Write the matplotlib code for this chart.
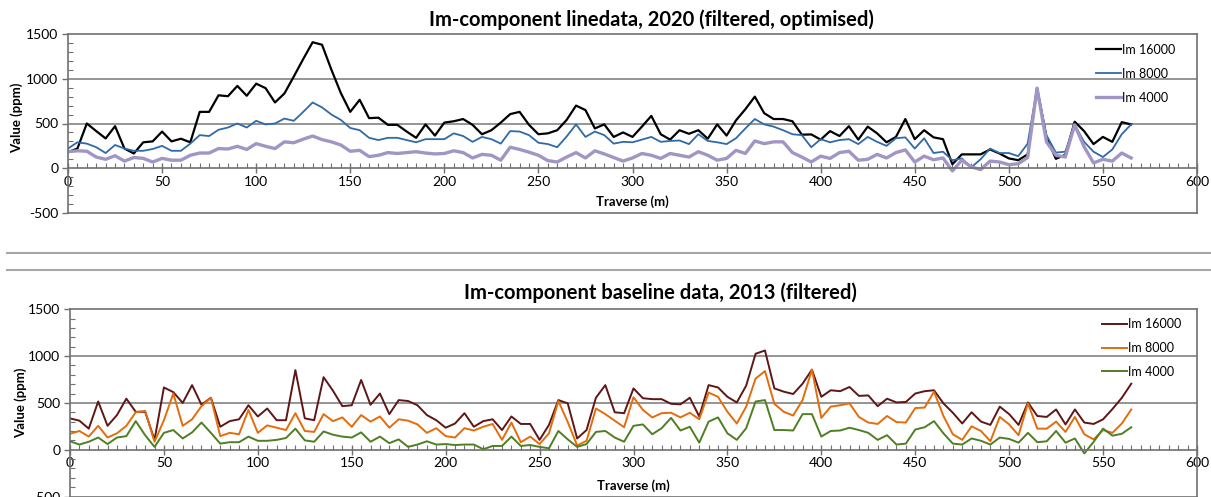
import matplotlib
matplotlib.use("Agg")
import matplotlib.pyplot as plt
from matplotlib.lines import Line2D
from matplotlib.ticker import MultipleLocator

plt.rcParams["font.family"] = ["Lato", "DejaVu Sans"]
plt.rcParams["axes.unicode_minus"] = False

# traverse stations (m), every 5 m
stations = list(range(0, 570, 5))

# 2020 line data (filtered, optimised), ppm
im16000_2020 = [
    180, 220, 500, 415, 333, 470, 220, 165, 290, 300,
    410, 300, 330, 290, 630, 630, 815, 805, 920, 810,
    945, 895, 735, 835, 1025, 1220, 1408, 1380, 1100, 840,
    630, 765, 560, 565, 485, 485, 410, 340, 490, 365,
    510, 525, 550, 485, 380, 425, 510, 605, 630, 485,
    380, 390, 425, 540, 700, 650, 445, 490, 350, 400,
    350, 465, 585, 380, 320, 425, 385, 425, 330, 490,
    365, 535, 660, 800, 615, 550, 550, 525, 375, 378,
    320, 415, 360, 470, 320, 465, 390, 290, 350, 550,
    325, 425, 345, 325, 45, 155, 155, 155, 210, 165,
    110, 90, 155, 895, 345, 105, 150, 520, 415, 270,
    350, 295, 515, 490,
]
im8000_2020 = [
    220, 290, 275, 235, 170, 260, 220, 195, 195, 215,
    250, 195, 195, 275, 370, 360, 430, 455, 500, 455,
    530, 490, 500, 555, 530, 630, 735, 680, 600, 540,
    450, 425, 340, 315, 340, 340, 315, 290, 325, 325,
    325, 390, 360, 295, 350, 325, 275, 415, 410, 370,
    285, 270, 235, 355, 490, 350, 410, 370, 275, 295,
    290, 320, 350, 295, 305, 310, 270, 380, 305, 290,
    270, 335, 445, 550, 490, 465, 425, 380, 370, 235,
    325, 290, 315, 325, 270, 350, 295, 250, 335, 345,
    220, 335, 170, 185, 90, 110, 10, 100, 220, 170,
    170, 135, 275, 895, 370, 175, 185, 485, 295, 185,
    125, 210, 380, 490,
]
im4000_2020 = [
    185, 195, 190, 125, 100, 140, 80, 120, 110, 70,
    110, 90, 90, 145, 170, 170, 220, 215, 245, 210,
    275, 245, 220, 295, 285, 325, 360, 320, 295, 260,
    190, 200, 130, 145, 175, 165, 175, 185, 170, 160,
    165, 195, 175, 115, 155, 145, 90, 235, 210, 180,
    145, 85, 70, 125, 175, 115, 195, 160, 120, 80,
    115, 165, 145, 110, 165, 145, 125, 185, 145, 90,
    110, 200, 165, 305, 275, 295, 295, 175, 125, 70,
    135, 110, 175, 190, 90, 100, 155, 115, 175, 205,
    70, 135, 95, 115, -30, 90, 15, -15, 80, 70,
    40, 50, 120, 895, 295, 145, 125, 485, 240, 60,
    100, 80, 170, 115,
]

# 2013 baseline data (filtered), ppm
im16000_2013 = [
    335, 310, 225, 515, 255, 370, 545, 405, 405, 105,
    665, 615, 500, 690, 480, 555, 245, 305, 325, 475,
    355, 440, 315, 315, 850, 335, 315, 775, 630, 465,
    475, 745, 480, 600, 380, 530, 520, 475, 370, 315,
    235, 280, 390, 245, 305, 325, 210, 355, 275, 275,
    105, 265, 530, 495, 120, 210, 555, 690, 400, 390,
    655, 550, 540, 540, 490, 485, 555, 355, 690, 665,
    565, 505, 685, 1025, 1060, 655, 620, 595, 705, 855,
    565, 635, 625, 670, 575, 580, 465, 545, 505, 510,
    600, 625, 635, 495, 395, 280, 400, 300, 265, 460,
    380, 265, 505, 360, 350, 430, 270, 430, 290, 275,
    325, 435, 555, 705,
]
im8000_2013 = [
    170, 200, 140, 255, 130, 175, 255, 400, 415, 85,
    315, 600, 255, 325, 465, 555, 145, 180, 165, 425,
    180, 260, 235, 210, 390, 200, 190, 380, 305, 345,
    245, 370, 300, 355, 235, 325, 310, 270, 180, 230,
    145, 130, 230, 205, 245, 275, 105, 290, 80, 140,
    60, 175, 520, 295, 45, 95, 440, 380, 310, 240,
    560, 425, 345, 390, 395, 345, 395, 325, 610, 565,
    405, 280, 460, 760, 840, 490, 405, 365, 530, 855,
    340, 460, 475, 495, 350, 290, 275, 360, 295, 290,
    445, 450, 620, 360, 165, 105, 250, 200, 90, 350,
    270, 155, 495, 225, 225, 300, 190, 350, 165, 110,
    210, 180, 280, 430,
]
im4000_2013 = [
    90, 55, 85, 130, 60, 130, 145, 305, 155, 30,
    180, 210, 120, 185, 290, 180, 65, 80, 80, 140,
    95, 95, 105, 125, 225, 100, 85, 195, 160, 140,
    130, 185, 85, 140, 70, 110, 30, 55, 90, 55,
    60, 50, 55, 55, 5, 40, 40, 140, 40, 50,
    30, 15, 200, 110, 30, 60, 190, 200, 130, 85,
    255, 270, 165, 230, 340, 205, 245, 75, 300, 345,
    175, 105, 230, 515, 530, 210, 210, 205, 380, 380,
    140, 200, 205, 235, 210, 180, 105, 155, 55, 65,
    215, 240, 305, 175, 65, 55, 120, 95, 55, 130,
    115, 75, 180, 80, 90, 200, 75, 120, -40, 85,
    225, 150, 170, 240,
]

labels = ["Im 16000", "Im 8000", "Im 4000"]

W, H = 1211, 497
fig = plt.figure(figsize=(W / 100, H / 100), dpi=100)

frame_col = "#707070"
grid_col = "#8c8c8c"


def setup_axes(ax):
    ax.set_xlim(0, 600)
    ax.set_ylim(-500, 1500)
    ax.xaxis.set_major_locator(MultipleLocator(50))
    ax.xaxis.set_minor_locator(MultipleLocator(5))
    ax.yaxis.set_major_locator(MultipleLocator(500))
    ax.yaxis.set_minor_locator(MultipleLocator(100))
    for y in (500, 1000):
        ax.axhline(y, color=grid_col, lw=1.3, zorder=0)
    ax.spines["bottom"].set_position(("data", 0))
    for s in ax.spines.values():
        s.set_color(frame_col)
        s.set_linewidth(1.2)
    ax.axhline(-500, color=frame_col, lw=1.2, clip_on=False)
    ax.tick_params(axis="x", which="major", direction="inout", length=7,
                   width=1, color=frame_col, labelsize=10, pad=2)
    ax.tick_params(axis="x", which="minor", direction="in", length=3.5,
                   width=0.8, color=frame_col)
    ax.tick_params(axis="y", which="major", direction="out", length=4,
                   width=1, color=frame_col, labelsize=10, pad=3)
    ax.tick_params(axis="y", which="minor", direction="in", length=3.5,
                   width=0.8, color=frame_col)
    ax.set_xlabel("Traverse (m)", fontsize=9.5, fontweight="bold")
    ax.set_ylabel("Value (ppm)", fontsize=9.5, fontweight="bold")


def add_legend(ax, x, y):
    leg = ax.legend(loc="upper left", bbox_to_anchor=(x, y), frameon=False,
                    fontsize=9, handlelength=2.0, handletextpad=0.1,
                    labelspacing=0.95, borderpad=0, borderaxespad=0)
    return leg


# 2020 survey
ax1 = fig.add_axes([68 / W, 1 - 213 / H, 1129 / W, 179 / H])
setup_axes(ax1)
ax1.plot(stations, im16000_2020, color="#000000", lw=1.6, label=labels[0])
ax1.plot(stations, im8000_2020, color="#2f6aa8", lw=1.3, label=labels[1])
ax1.plot(stations, im4000_2020, color="#a195c4", lw=2.4, label=labels[2])
ax1.xaxis.set_label_coords(0.5, 0.10)
ax1.yaxis.set_label_coords(-0.04, 0.53)
add_legend(ax1, 0.9105, 0.945)
fig.text(651 / W, 1 - 20 / H, "Im-component linedata, 2020 (filtered, optimised)",
         ha="center", va="center", fontsize=14.5, fontweight="bold")

# separators between the two chart panels
for yp in (253, 270):
    fig.add_artist(Line2D([7 / W, 1], [1 - yp / H] * 2, transform=fig.transFigure,
                          color="#a6a6a6", lw=1.5))

# 2013 baseline
ax2 = fig.add_axes([70 / W, 1 - 496.5 / H, 1127 / W, 187.2 / H])
setup_axes(ax2)
ax2.plot(stations, im16000_2013, color="#5e1616", lw=1.4, label=labels[0])
ax2.plot(stations, im8000_2013, color="#e46c0a", lw=1.4, label=labels[1])
ax2.plot(stations, im4000_2013, color="#4f7f22", lw=1.4, label=labels[2])
ax2.xaxis.set_label_coords(0.5, 0.093)
ax2.yaxis.set_label_coords(-0.038, 0.5)
add_legend(ax2, 0.9157, 0.953)
fig.text(660 / W, 1 - 293 / H, "Im-component baseline data, 2013 (filtered)",
         ha="center", va="center", fontsize=14.5, fontweight="bold")

fig.savefig("out.png", dpi=100)
